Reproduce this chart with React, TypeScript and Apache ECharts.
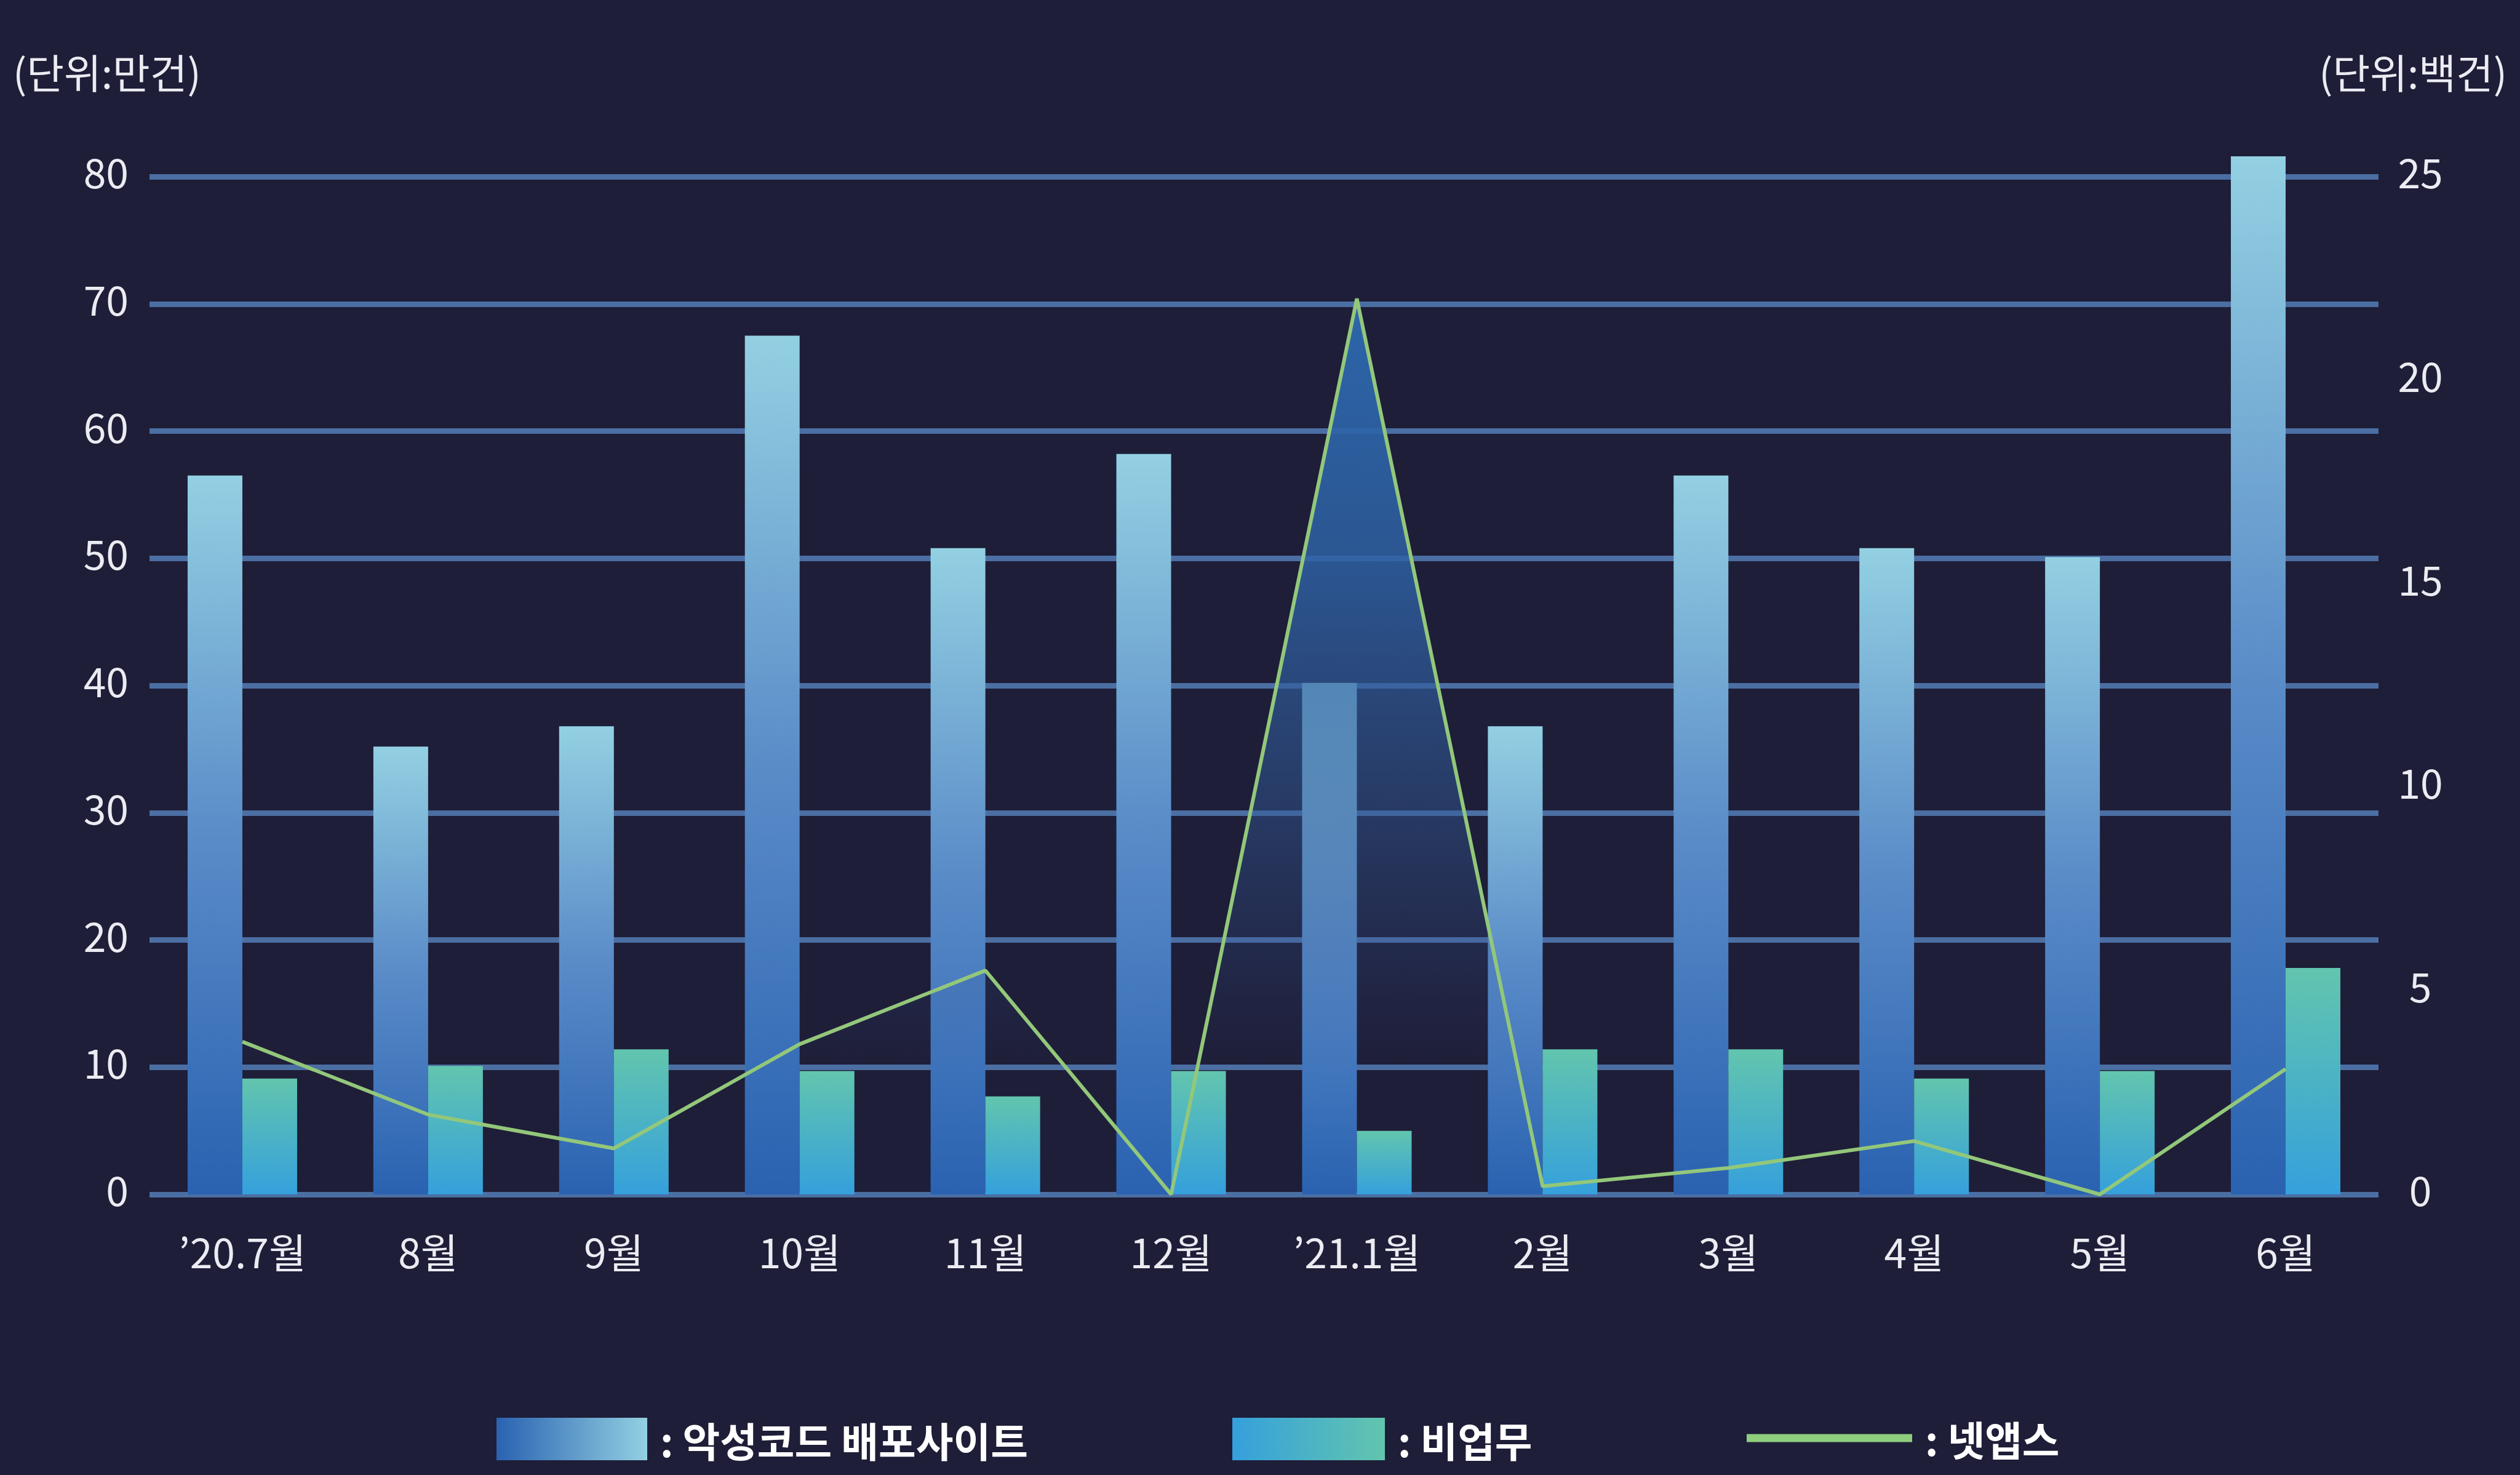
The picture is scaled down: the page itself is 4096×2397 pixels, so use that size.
import React, { useEffect, useRef } from 'react';
import * as echarts from 'echarts';

// ---- data ----
const categories = ['’20.7월', '8월', '9월', '10월', '11월', '12월', '’21.1월', '2월', '3월', '4월', '5월', '6월'];
const malwareSites = [56.5, 35.2, 36.8, 67.5, 50.8, 58.2, 40.2, 36.8, 56.5, 50.8, 50.1, 81.6];
const nonBusiness = [9.1, 10.1, 11.4, 9.7, 7.7, 9.7, 5.0, 11.4, 11.4, 9.1, 9.7, 17.8];
const netApps = [3.75, 1.96, 1.13, 3.69, 5.5, 0, 22, 0.2, 0.65, 1.31, 0, 3.08];
const seriesNames = ['악성코드 배포사이트', '비업무', '넷앱스'];
const leftAxis = { min: 0, max: 80, interval: 10 };
const rightAxis = { min: 0, max: 25, interval: 5 };
const unitLabels = ['(단위:만건)', '(단위:백건)'];

const FONT = '"Noto Sans CJK KR", "Noto Sans", sans-serif';
const TEXT = '#ebebf2';

function vGrad(stops: [number, string][]) {
  return new echarts.graphic.LinearGradient(0, 0, 0, 1, stops.map(([offset, color]) => ({ offset, color })));
}
function hGrad(a: string, b: string) {
  return new echarts.graphic.LinearGradient(0, 0, 1, 0, [
    { offset: 0, color: a },
    { offset: 1, color: b },
  ]);
}

export default function App() {
  const ref = useRef<HTMLDivElement>(null);
  useEffect(() => {
    document.body.style.margin = '0';
    document.body.style.background = '#1e1e38';
    const chart = echarts.init(ref.current!, null, { renderer: 'svg' });
    const legendText = {
      color: '#ffffff',
      fontSize: 66,
      fontWeight: 'bold' as const,
      fontFamily: FONT,
      padding: [0, 0, 0, 16],
    };
    chart.setOption({
      animation: false,
      backgroundColor: '#1e1e38',
      textStyle: { fontFamily: FONT },
      grid: { left: 243, right: 230, top: 287, bottom: 456, containLabel: false },
      xAxis: {
        type: 'category',
        data: categories,
        axisLine: { show: false },
        axisTick: { show: false },
        axisLabel: { color: TEXT, fontSize: 66, margin: 58, fontFamily: FONT },
      },
      yAxis: [
        {
          type: 'value',
          min: leftAxis.min,
          max: leftAxis.max,
          interval: leftAxis.interval,
          axisLine: { show: false },
          axisTick: { show: false },
          axisLabel: { color: TEXT, fontSize: 66, margin: 34, fontFamily: FONT, verticalAlign: 'bottom', lineHeight: 20 },
          splitLine: { show: true, lineStyle: { color: '#4b6ea3', width: 9 } },
        },
        {
          type: 'value',
          position: 'right',
          min: rightAxis.min,
          max: rightAxis.max,
          interval: rightAxis.interval,
          axisLine: { show: false },
          axisTick: { show: false },
          axisLabel: { color: TEXT, fontSize: 66, margin: 68, align: 'center', fontFamily: FONT, verticalAlign: 'bottom', lineHeight: 20 },
          splitLine: { show: false },
        },
      ],
      legend: [
        {
          left: 802,
          top: 2299,
          itemWidth: 245,
          itemHeight: 69,
          selectedMode: false,
          data: [{ name: seriesNames[0], icon: 'rect', itemStyle: { color: hGrad('#2a62b1', '#93d0e2') } }],
          formatter: (n: string) => ': ' + n,
          textStyle: legendText,
        },
        {
          left: 1998,
          top: 2299,
          itemWidth: 248,
          itemHeight: 69,
          selectedMode: false,
          data: [{ name: seriesNames[1], icon: 'rect', itemStyle: { color: hGrad('#35a0dc', '#62c5ae') } }],
          formatter: (n: string) => ': ' + n,
          textStyle: legendText,
        },
        {
          left: 2834,
          top: 2299,
          itemWidth: 269,
          itemHeight: 69,
          selectedMode: false,
          data: [{ name: seriesNames[2], icon: 'path://M0 0h269v13H0z', itemStyle: { color: '#8fce7c', borderWidth: 0 } }],
          formatter: (n: string) => ': ' + n,
          textStyle: legendText,
        },
      ],
      graphic: [
        {
          type: 'text',
          x: 21,
          y: 115,
          style: {
            text: unitLabels[0],
            fill: TEXT,
            fontSize: 66,
            fontFamily: FONT,
            align: 'left',
            verticalAlign: 'middle',
          },
        },
        {
          type: 'text',
          x: 4075,
          y: 115,
          style: {
            text: unitLabels[1],
            fill: TEXT,
            fontSize: 66,
            fontFamily: FONT,
            align: 'right',
            verticalAlign: 'middle',
          },
        },
      ],
      series: [
        {
          name: seriesNames[0],
          type: 'bar',
          data: malwareSites,
          barWidth: 89,
          barGap: '0%',
          clip: false,
          itemStyle: {
            color: vGrad([
              [0, '#93d0e2'],
              [0.5, '#5a8cc8'],
              [1, '#2a62b1'],
            ]),
          },
        },
        {
          name: seriesNames[1],
          type: 'bar',
          data: nonBusiness,
          barWidth: 89,
          barGap: '0%',
          clip: false,
          itemStyle: {
            color: vGrad([
              [0, '#62c5ae'],
              [1, '#35a0dc'],
            ]),
          },
        },
        {
          name: seriesNames[2],
          type: 'line',
          yAxisIndex: 1,
          data: netApps,
          symbol: 'none',
          z: 3,
          lineStyle: { color: '#93c77a', width: 6 },
          itemStyle: { color: '#93c77a' },
          areaStyle: {
            opacity: 1,
            color: vGrad([
              [0, 'rgba(44,102,170,1)'],
              [0.3, 'rgba(46,98,165,0.82)'],
              [0.6, 'rgba(50,90,150,0.42)'],
              [0.86, 'rgba(50,80,140,0)'],
              [1, 'rgba(50,80,140,0)'],
            ]),
          },
        },
      ],
    });
    return () => chart.dispose();
  }, []);
  return <div ref={ref} style={{ width: 4096, height: 2397 }} />;
}
